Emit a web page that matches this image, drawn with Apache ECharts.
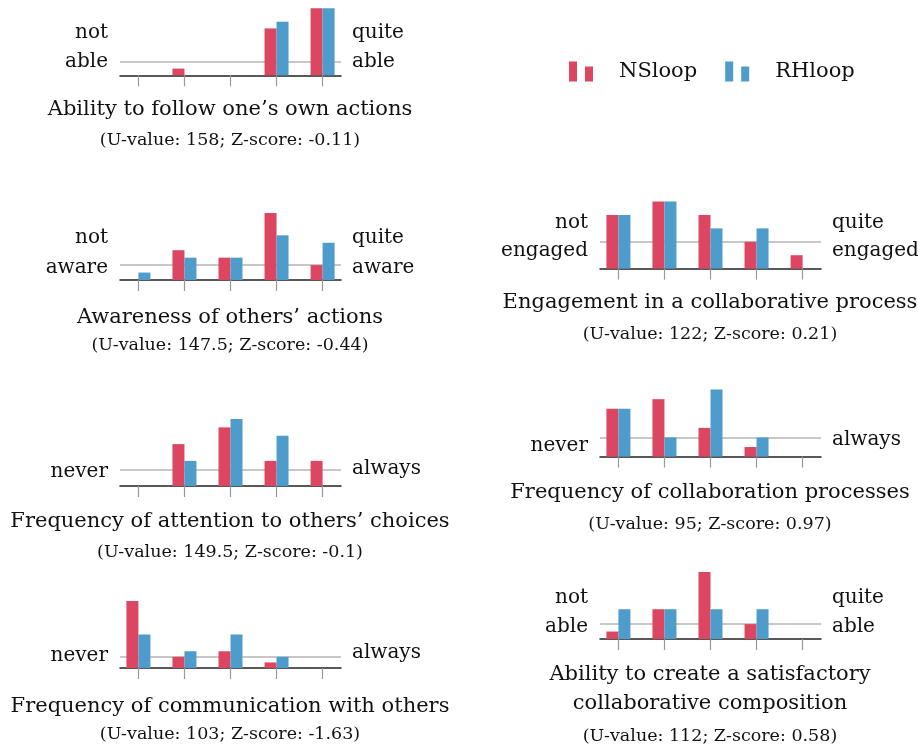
<!DOCTYPE html>
<html><head><meta charset="utf-8">
<script src="https://cdn.jsdelivr.net/npm/echarts@6/dist/echarts.min.js"></script>
<style>html,body{margin:0;padding:0;background:#fff}#c{width:918px;height:748px}</style>
</head><body><div id="c"></div>
<script>
// ---- data ----
const categories = [1, 2, 3, 4, 5];
const seriesNames = ['NSloop', 'RHloop'];
const nsFollow = [0, 1, 0, 7, 10];
const rhFollow = [0, 0, 0, 8, 10];
const nsAwareness = [0, 4, 3, 9, 2];
const rhAwareness = [1, 3, 3, 6, 5];
const nsAttention = [0, 5, 7, 3, 3];
const rhAttention = [0, 3, 8, 6, 0];
const nsCommunication = [12, 2, 3, 1, 0];
const rhCommunication = [6, 3, 6, 2, 0];
const nsEngagement = [4, 5, 4, 2, 1];
const rhEngagement = [4, 5, 3, 3, 0];
const nsCollabFreq = [5, 6, 3, 1, 0];
const rhCollabFreq = [5, 2, 7, 2, 0];
const nsCreate = [1, 4, 9, 2, 0];
const rhCreate = [4, 4, 4, 4, 0];
const referenceValue = 2;

const panelTitles = [
  ['Ability to follow one’s own actions'],
  ['Awareness of others’ actions'],
  ['Frequency of attention to others’ choices'],
  ['Frequency of communication with others'],
  ['Engagement in a collaborative process'],
  ['Frequency of collaboration processes'],
  ['Ability to create a satisfactory', 'collaborative composition']
];
const panelStats = [
  '(U-value: 158; Z-score: -0.11)',
  '(U-value: 147.5; Z-score: -0.44)',
  '(U-value: 149.5; Z-score: -0.1)',
  '(U-value: 103; Z-score: -1.63)',
  '(U-value: 122; Z-score: 0.21)',
  '(U-value: 95; Z-score: 0.97)',
  '(U-value: 112; Z-score: 0.58)'
];
const lowLabels = [['not', 'able'], ['not', 'aware'], ['never'], ['never'], ['not', 'engaged'], ['never'], ['not', 'able']];
const highLabels = [['quite', 'able'], ['quite', 'aware'], ['always'], ['always'], ['quite', 'engaged'], ['always'], ['quite', 'able']];
const nsData = [nsFollow, nsAwareness, nsAttention, nsCommunication, nsEngagement, nsCollabFreq, nsCreate];
const rhData = [rhFollow, rhAwareness, rhAttention, rhCommunication, rhEngagement, rhCollabFreq, rhCreate];

// ---- layout ----
const layout = [
  {left: 120, top: 8.3, titleY: [109.5], statY: 140.5, lowY: [33, 61.5], highY: [33, 62]},
  {left: 120, top: 213, titleY: [317.6], statY: 345, lowY: [238, 268], highY: [238, 268]},
  {left: 120, top: 419, titleY: [521.5], statY: 552, lowY: [472], highY: [469]},
  {left: 120, top: 601, titleY: [706.5], statY: 734, lowY: [656], highY: [652.5]},
  {left: 600, top: 201.6, titleY: [302.5], statY: 334, lowY: [223, 250.3], highY: [223, 250.3]},
  {left: 600, top: 389.6, titleY: [492.5], statY: 524, lowY: [445.3], highY: [439.3]},
  {left: 600, top: 572, titleY: [675, 704], statY: 736.5, lowY: [598, 626.3], highY: [598, 626.3]}
];
const FONT = 'DejaVu Serif';
const RED = '#dc4660';
const BLUE = '#4d9ccb';
const TXT = '#111';

const grids = [], xAxes = [], yAxes = [], series = [], graphics = [];
layout.forEach((L, i) => {
  grids.push({left: L.left, top: L.top, width: 221, height: 67});
  xAxes.push({
    type: 'value', gridIndex: i, min: 0.6, max: 5.4,
    axisLine: {show: true, onZero: false, lineStyle: {color: '#222', width: 1.5}},
    axisTick: {show: true, customValues: categories, length: 11, lineStyle: {color: '#999', width: 1.2}},
    axisLabel: {show: false},
    splitLine: {show: false}
  });
  const ymax = Math.max(...nsData[i], ...rhData[i]);
  yAxes.push({type: 'value', gridIndex: i, min: 0, max: ymax, show: false, splitLine: {show: false}});
  series.push({
    name: seriesNames[0], type: 'bar', xAxisIndex: i, yAxisIndex: i,
    barWidth: 12, barGap: '0%', itemStyle: {color: RED},
    data: categories.map((c, j) => [c, nsData[i][j]]),
    markLine: {
      silent: true, symbol: 'none', z: 1, animation: false,
      label: {show: false},
      lineStyle: {color: '#b5b5b5', width: 1.5, type: 'solid'},
      data: [{yAxis: referenceValue}]
    }
  });
  series.push({
    name: seriesNames[1], type: 'bar', xAxisIndex: i, yAxisIndex: i,
    barWidth: 12, barGap: '0%', itemStyle: {color: BLUE},
    data: categories.map((c, j) => [c, rhData[i][j]])
  });
  const cx = L.left + 110;
  panelTitles[i].forEach((t, k) => graphics.push({
    type: 'text', x: cx, y: L.titleY[k],
    style: {text: t, align: 'center', verticalAlign: 'middle', font: '21px "' + FONT + '"', fill: TXT}
  }));
  graphics.push({
    type: 'text', x: cx, y: L.statY,
    style: {text: panelStats[i], align: 'center', verticalAlign: 'middle', font: '17.5px "' + FONT + '"', fill: TXT}
  });
  lowLabels[i].forEach((t, k) => graphics.push({
    type: 'text', x: L.left - 12, y: L.lowY[k],
    style: {text: t, align: 'right', verticalAlign: 'middle', font: '20px "' + FONT + '"', fill: TXT}
  }));
  highLabels[i].forEach((t, k) => graphics.push({
    type: 'text', x: L.left + 232, y: L.highY[k],
    style: {text: t, align: 'left', verticalAlign: 'middle', font: '20px "' + FONT + '"', fill: TXT}
  }));
});

const chart = echarts.init(document.getElementById('c'), null, {renderer: 'canvas'});
chart.setOption({
  animation: false,
  backgroundColor: '#fff',
  textStyle: {fontFamily: FONT},
  legend: {
    data: seriesNames, left: 569, top: 61, orient: 'horizontal', padding: 0,
    icon: 'path://M0,0L8,0L8,20L0,20Z M16,5L24,5L24,20L16,20Z',
    itemWidth: 24, itemHeight: 20, itemGap: 28,
    textStyle: {fontFamily: FONT, fontSize: 21, color: TXT, padding: [19, 0, 0, 21]}
  },
  grid: grids, xAxis: xAxes, yAxis: yAxes, series: series,
  graphic: graphics
});
</script></body></html>
